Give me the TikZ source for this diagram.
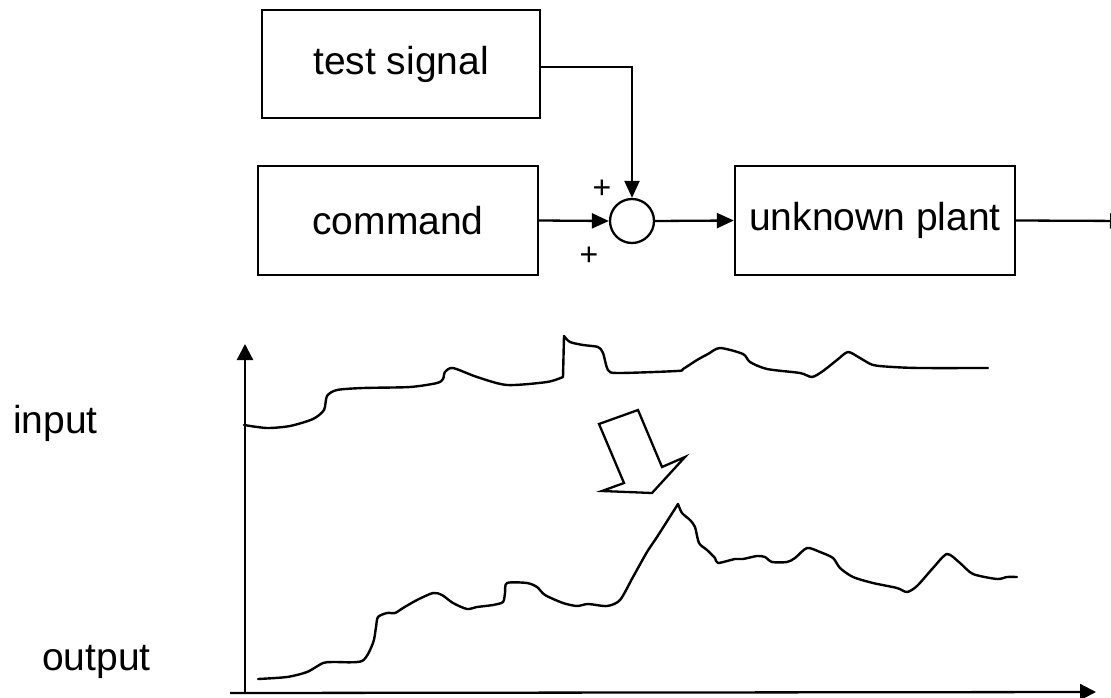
\documentclass[tikz,border=0pt]{standalone}
\usepackage{fontspec}
\setmainfont{Liberation Sans}
\usetikzlibrary{arrows.meta}
\begin{document}
\begin{tikzpicture}[x=1pt,y=-1pt,
  blockbox/.style={draw,line width=2.3pt,minimum width=280pt,minimum height=109pt,inner sep=0pt,
    font=\fontsize{39}{47}\selectfont},
  sumnode/.style={draw,circle,line width=2.3pt,minimum size=44pt,inner sep=0pt},
  signal/.style={line width=2.3pt,-{Triangle[length=17pt,width=15pt]}},
  trace/.style={line width=2.4pt,line join=round,line cap=round},
  axis/.style={line width=2.3pt,-{Triangle[length=16pt,width=16pt]}},
  sign/.style={font=\fontsize{32}{36}\selectfont,inner sep=0pt},
  label/.style={font=\fontsize{39}{47}\selectfont,inner sep=0pt,anchor=base west}]
\useasboundingbox (0,0) rectangle (1111,698);

% block diagram
\node[blockbox,minimum width=278pt,minimum height=108pt] (ts) at (401,64) {test signal};
\node[blockbox] (cmd) at (398,220.5) {command};
\node[sumnode] (sum) at (632,221) {};
\node[blockbox] (plant) at (875,220.5) {unknown plant};
\coordinate (out) at (1127,221);

\draw[signal] ([yshift=-3pt]ts.east) -| (sum.north);
\draw[signal] (cmd.east) -- (sum.west);
\draw[signal] (sum.east) -- (plant.west);
\draw[signal] (plant.east) -- (out);

\node[sign] (p1) at (602,189) {+};
\node[sign] (p2) at (589,256) {+};

% axes
\coordinate (o) at (245,693);
\coordinate (ytop) at (245,344);
\coordinate (xl) at (230,693);
\coordinate (xr) at (1096,692);
\draw[axis] (o) -- (ytop);
\draw[axis] (xl) -- (xr);

\node[label] (lin) at (13,433) {input};
\node[label] (lout) at (42,670) {output};

% input signal
\draw[trace] plot[smooth,tension=0.45] coordinates {(244,425) (267,428) (290,426) (313,419) (324,410) (327,396) (337,390) (363,388) (410,387) (437,383) (443,379) (445,372) (453,368) (477,377) (507,385) (547,382) (563,377)}
  -- (564,336)
  -- plot[smooth,tension=0.45] coordinates {(564,336) (570,342) (583,345) (598,347) (603,353) (608,370) (618,373) (677,371) (683,369) (697,360) (708,354) (720,348) (743,354) (750,362) (767,369) (800,373) (812,377) (823,371) (837,360) (848,352) (860,358) (873,365) (893,367) (920,368) (988,368)};

% output signal
\draw[trace] plot[smooth,tension=0.45] coordinates {(258,679) (287,677) (307,672) (323,663) (333,662) (362,661) (373,643) (376,627) (378,617) (387,613) (395,613) (403,608) (417,600) (433,593) (442,595) (453,603) (467,609) (477,607) (493,605) (503,602) (505,593) (507,583) (527,583) (537,587) (545,595) (563,603) (577,606) (588,604) (607,606) (620,600) (633,577) (647,552) (657,537) (678,504)}
  -- plot[smooth,tension=0.45] coordinates {(678,504) (682,513) (690,520) (695,527) (699,543) (707,550) (715,558) (718,563) (735,559) (743,559) (757,556) (765,557) (772,562) (787,562) (795,558) (807,548) (820,552) (833,558) (840,568) (853,577) (873,583) (897,588) (907,592) (917,586) (933,568) (947,554) (960,563) (973,574) (997,579) (1007,577) (1017,577)};

% hollow arrow from input to output
\draw[line width=2.3pt,fill=white,line join=miter] (599,424) -- (638,410) -- (662,467) -- (685,457) -- (652,493) -- (602,491) -- (624,483) -- cycle;
\end{tikzpicture}
\end{document}
